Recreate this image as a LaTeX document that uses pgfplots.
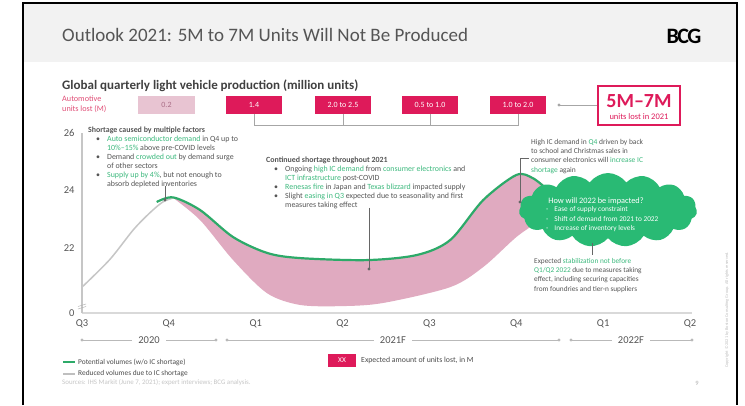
\documentclass[border=0pt]{standalone}
\usepackage{fontspec}
\setmainfont{Carlito}
\usepackage{pgfplots}
\usepackage{pgfplotstable}
\pgfplotsset{compat=1.18}
\usetikzlibrary{shapes.symbols}
\definecolor{bcggreen}{RGB}{45,170,105}
\definecolor{cloudgreen}{RGB}{41,186,116}
\definecolor{txtgreen}{RGB}{60,185,125}
\definecolor{bcgpink}{RGB}{222,26,90}
\definecolor{pinktxt}{RGB}{225,80,120}
\definecolor{lightpink}{RGB}{232,196,210}
\definecolor{areapink}{RGB}{224,170,192}
\definecolor{txtgrey}{RGB}{85,85,85}
\definecolor{titlebar}{RGB}{242,242,242}
\newcommand\G[1]{\textcolor{txtgreen}{#1}}
\newcommand\fs[2]{\fontsize{#1}{#2}\selectfont}
\newcommand\bul{\hspace*{8pt}\makebox[11pt][l]{\textbullet}}
\newcommand\ind{\hspace*{19pt}}

% potential volumes (w/o IC shortage)
\pgfplotstableread{
x y
0.86 23.60
1.05 23.76
1.36 23.32
1.74 22.38
2.13 21.83
2.51 21.65
3.28 21.58
3.86 21.76
4.24 22.28
4.62 23.67
5.00 24.54
5.19 24.43
5.35 24.05
}\potential
% area between potential (upper) and reduced (lower) volumes
\pgfplotstableread{
x y
1.05 23.76
1.36 23.32
1.74 22.38
2.13 21.83
2.51 21.65
3.28 21.58
3.86 21.76
4.24 22.28
4.62 23.67
5.00 24.54
5.19 24.43
5.35 24.05
5.35 23.20
5.00 22.38
4.62 21.34
4.24 20.64
3.47 20.09
3.00 19.98
2.51 20.02
2.13 20.43
1.74 21.58
1.36 22.97
1.05 23.74
}\gap
% reduced volumes, 2020 part
\pgfplotstableread{
x y
0.00 20.64
0.32 21.60
0.59 22.63
0.78 23.22
0.93 23.60
1.05 23.74
}\rise

\begin{document}
\begin{tikzpicture}[x=1pt,y=1pt]
\fill[white] (0,0) rectangle (745,405);
\fill[titlebar] (24,343) rectangle (736,402);
\draw[black, line width=2.7pt] (23,0) -- (23,402) -- (737,402) -- (737,0);

% title
\node[anchor=west, text=txtgrey, font=\fs{19}{21}, inner sep=0] at (62,370) {Outlook 2021: 5M to 7M Units Will Not Be Produced};
\node[font=\fs{22}{22}\bfseries, inner sep=0] at (684,369) {B\kern-1.6pt C\kern-1.6pt G};

% header
\node[anchor=west, font=\fs{13}{15}\bfseries, text=black!75, inner sep=0] at (62,319) {Global quarterly light vehicle production (million units)};
\node[anchor=north west, align=left, text=pinktxt, font=\fs{8.2}{10}, inner sep=0] at (62,309) {Automotive\\units lost (M)};

\fill[lightpink] (138,291) rectangle (195,309);
\node[text={rgb,255:red,170;green,110;blue,135}, font=\fs{8}{9}] at (166.5,300) {0.2};
\foreach \a/\b/\t in {226/282/1.4, 315/371/2.0 to 2.5, 402/458/0.5 to 1.0, 490/546/1.0 to 2.0}{
  \fill[bcgpink] (\a,291) rectangle (\b,309);
  \node[text=white, font=\fs{8}{9}] at ({(\a+\b)/2},300) {\t};
}
\draw[gray!70, line width=0.7pt] (254,291)--(254,280)--(518,280)--(518,291);
\draw[gray!70, line width=0.7pt] (343,291)--(343,280) (430,291)--(430,280);
\draw[gray!70, line width=0.8pt] (559,300)--(598,300);
\fill[gray!70] (559,300) circle (1.6);
\draw[bcgpink, line width=1.2pt, fill=white] (598,280) rectangle (680,319);
\node[text=bcgpink, font=\fs{20}{20}\bfseries] at (639,304) {5M–7M};
\node[text=bcgpink, font=\fs{8.5}{9}] at (639,288) {units lost in 2021};

\begin{axis}[at={(82pt,92pt)}, anchor=south west, width=608pt, height=180pt,
  scale only axis, xmin=0, xmax=7, ymin=19.74, ymax=26, clip=false,
  axis line style={draw=none}, tick style={draw=none}, major tick length=0pt,
  xtick={0,1,2,3,4,5,6,7}, xticklabels={Q3,Q4,Q1,Q2,Q3,Q4,Q1,Q2},
  ytick={19.74,22,24,26}, yticklabels={0,22,24,26},
  tick label style={font=\fs{10.5}{12}, text=txtgrey},
  xticklabel style={yshift=-3pt}, yticklabel style={xshift=-4pt},
  /pgf/number format/assume math mode=true]
\addplot[fill=areapink, draw=none, smooth, tension=0.5] table {\gap} -- cycle;
\addplot[gray!45, line width=1.5pt, smooth] table {\rise};
\addplot[bcggreen, line width=2.2pt, smooth] table {\potential};
\end{axis}

% axis lines
\draw[gray!30, line width=2pt] (82,92)--(692,92);
\draw[gray!45, line width=1.2pt] (82,92)--(82,272);
\draw[gray!60, line width=0.5pt] (78,96)--(86,98.5) (78,98.5)--(86,101);

% cloud
\node[cloud, cloud puffs=15, cloud puff arc=110, aspect=2.5, fill=cloudgreen, minimum width=178pt, minimum height=74pt, inner sep=0] at (608,195) {};
\node[text=white, font=\fs{8.3}{9}] at (596,204) {How will 2022 be impacted?};
\node[anchor=north west, align=left, text=white, font=\fs{7.3}{9.5}, inner sep=0] at (546,198.5) {-\hspace{6pt}Ease of supply constraint\\-\hspace{6pt}Shift of demand from 2021 to 2022\\-\hspace{6pt}Increase of inventory levels};

% annotations
\draw[black!60, line width=0.8pt] (165,219)--(165,205);
\fill[black!60] (165,205) circle (1.6);
\node[anchor=north west, align=left, text=txtgrey, font=\fs{7.9}{9}, inner sep=0] at (88,278) {\textbf{Shortage caused by multiple factors}\\
\bul\G{Auto semiconductor demand} in Q4 up to\\
\ind\G{10\%–15\%} above pre-COVID levels\\
\bul Demand \G{crowded out} by demand surge\\
\ind of other sectors\\
\bul\G{Supply up by 4\%}, but not enough to\\
\ind absorb depleted inventories};

\draw[black!60, line width=0.8pt] (369,197)--(369,136);
\fill[black!60] (369,136) circle (1.6);
\node[anchor=north west, align=left, text=txtgrey, font=\fs{7.9}{9}, inner sep=0] at (266,248) {\textbf{Continued shortage throughout 2021}\\
\bul Ongoing \G{high IC demand} from \G{consumer electronics} and\\
\ind\G{ICT infrastructure} post-COVID\\
\bul\G{Renesas fire} in Japan and \G{Texas blizzard} impacted supply\\
\bul Slight \G{easing in Q3} expected due to seasonality and first\\
\ind measures taking effect};

\draw[black!60, line width=0.8pt] (529,247)--(520,247)--(520,203);
\fill[black!60] (520,203) circle (1.6);
\node[anchor=north west, align=left, text=txtgrey, font=\fs{7.5}{9.2}, inner sep=0] at (531,266) {High IC demand in \G{Q4} driven by back\\to school and Christmas sales in\\consumer electronics will \G{increase IC}\\\G{shortage} again};

\draw[black!60, line width=0.8pt] (592,162)--(592,150);
\node[anchor=north west, align=left, text=txtgrey, font=\fs{7.3}{9.3}, inner sep=0] at (534,147) {Expected \G{stabilization not before}\\\G{Q1/Q2 2022} due to measures taking\\effect, including securing capacities\\from foundries and tier-n suppliers};

% year bars
\foreach \a/\b/\c/\t in {82/216/149/2020, 227/559/393/2021F, 571/692/631/2022F}{
  \draw[gray!55, line width=0.8pt] (\a,65)--(\b,65);
  \fill[gray!55] (\a,65) circle (1.6) (\b,65) circle (1.6);
  \node[fill=white, inner xsep=6pt, inner ysep=1pt, text=txtgrey, font=\fs{10.5}{12}] at (\c,65) {\t};
}

% legend
\draw[bcggreen, line width=2pt] (63,43)--(75,43);
\node[anchor=west, inner sep=0, text=black!70, font=\fs{7.4}{8}] at (78,43) {Potential volumes (w/o IC shortage)};
\draw[gray!50, line width=1.2pt] (63,31)--(75,31);
\node[anchor=west, inner sep=0, text=black!70, font=\fs{7.4}{8}] at (78,31) {Reduced volumes due to IC shortage};
\fill[bcgpink] (328,38) rectangle (356,51);
\node[text=white, font=\fs{7.4}{8}] at (342,44.5) {XX};
\node[anchor=west, inner sep=0, text=black!70, font=\fs{7.8}{8}] at (361,44.5) {Expected amount of units lost, in M};
\node[anchor=west, inner sep=0, text=gray!45, font=\fs{6.9}{8}] at (62,22) {Sources: IHS Markit (June 7, 2021); expert interviews; BCG analysis.};
\node[inner sep=0, text=gray!60, font=\fs{6.5}{8}] at (697,22) {9};
\node[rotate=90, inner sep=0, text=gray!50, font=\fs{4.3}{5}] at (727,95) {Copyright \textcopyright{} 2021 by Boston Consulting Group. All rights reserved.};
\pgfresetboundingbox
\path[use as bounding box] (0,0) rectangle (745,405);
\end{tikzpicture}
\end{document}
